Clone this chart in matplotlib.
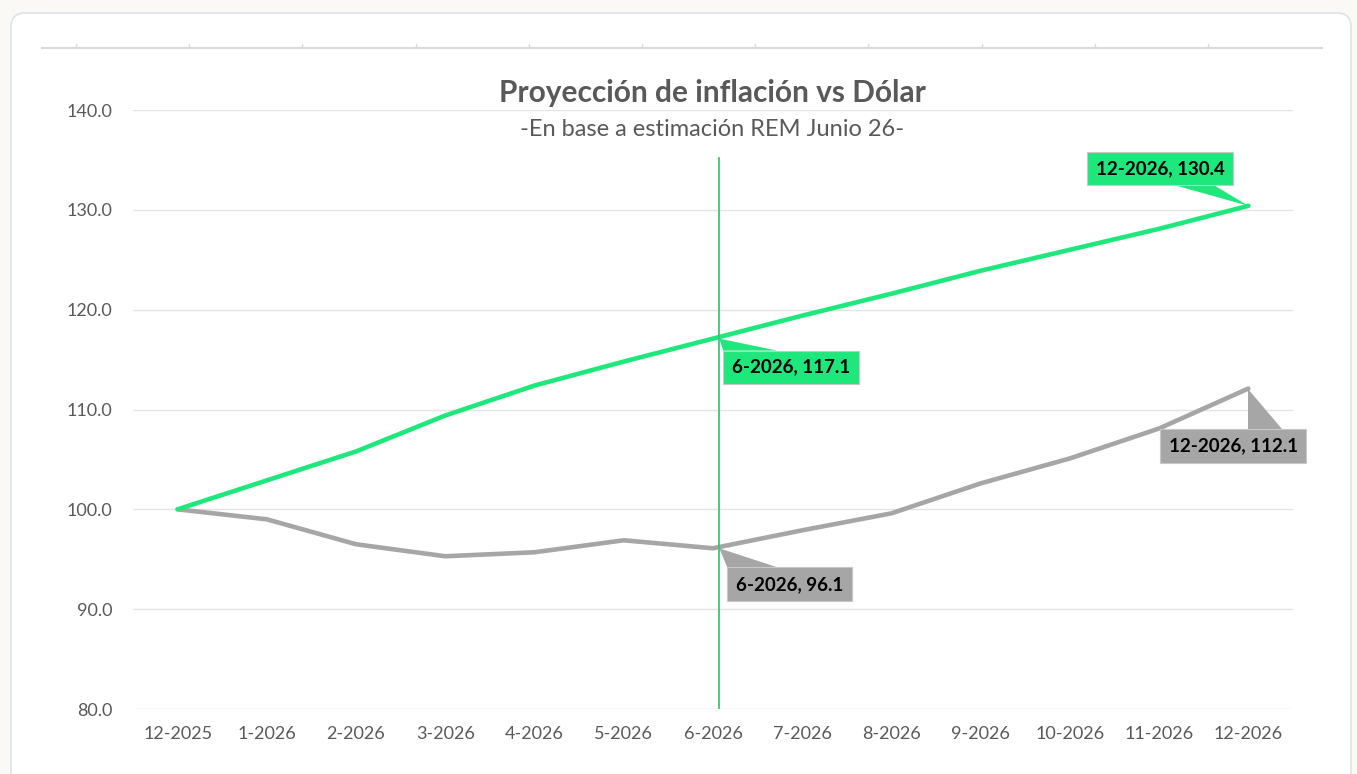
import matplotlib
matplotlib.use("Agg")
import matplotlib.pyplot as plt
from matplotlib.patches import FancyBboxPatch, Polygon, Rectangle
from matplotlib.lines import Line2D

plt.rcParams['font.family'] = ['Lato', 'DejaVu Sans']

categories = ["12-2025", "1-2026", "2-2026", "3-2026", "4-2026", "5-2026", "6-2026",
              "7-2026", "8-2026", "9-2026", "10-2026", "11-2026", "12-2026"]
inflacion = [100.0, 102.9, 105.8, 109.4, 112.4, 114.8, 117.1, 119.4, 121.6, 123.9, 126.0, 128.1, 130.4]
dolar = [100.0, 99.0, 96.5, 95.3, 95.7, 96.9, 96.1, 97.9, 99.6, 102.6, 105.1, 108.1, 112.1]
y_ticks = [80.0, 90.0, 100.0, 110.0, 120.0, 130.0, 140.0]
title = "Proyección de inflación vs Dólar"
subtitle = "-En base a estimación REM Junio 26-"
marker_idx = 6
marker_top = 135.2

GREEN = "#1EE87C"
GRAY = "#A6A6A6"
TXT = "#595959"

W, H = 1357, 774
fig = plt.figure(figsize=(W / 100, H / 100), dpi=100)
fig.patch.set_facecolor("#FBF9F5")

# card
card = FancyBboxPatch((11, -30), 1340, H - 13 + 30, boxstyle="round,pad=0,rounding_size=14",
                      transform=None, facecolor="white", edgecolor="#DCE3EA", lw=1.2, zorder=-5)
fig.patches.append(card)

# top decorative rule with ticks
fig.add_artist(Line2D([42, 1322], [H - 48, H - 48], transform=None, color="#D9D9D9", lw=1.5, zorder=-4))
for k in range(11):
    xx = 76 + 113.2 * k
    fig.add_artist(Line2D([xx, xx], [H - 48, H - 44], transform=None, color="#D9D9D9", lw=1, zorder=-4))

ax = fig.add_axes([133 / W, (H - 709) / H, (1293 - 133) / W, (709 - 110) / H])
ax.set_facecolor("none")
x = list(range(len(categories)))
ax.set_xlim(-0.5, len(categories) - 0.5)
ax.set_ylim(y_ticks[0], y_ticks[-1])
ax.set_yticks(y_ticks)
ax.set_yticklabels([f"{v:.1f}" for v in y_ticks])
ax.set_xticks(x)
ax.set_xticklabels(categories)
ax.tick_params(length=0, labelsize=13, labelcolor=TXT)
ax.tick_params(axis="y", pad=15)
ax.tick_params(axis="x", pad=12)
for s in ax.spines.values():
    s.set_visible(False)
ax.grid(axis="y", color="#E3E3E3", lw=1)
ax.set_axisbelow(True)

ax.plot(x, dolar, color=GRAY, lw=3.3, solid_capstyle="round", solid_joinstyle="round", zorder=3)
ax.plot(x, inflacion, color=GREEN, lw=3.3, solid_capstyle="round", solid_joinstyle="round", zorder=3)
ax.plot([marker_idx + 0.07, marker_idx + 0.07], [y_ticks[0], marker_top], color="#3CC47A", lw=1.3, zorder=4)

fig.text(712 / W, 1 - 93 / H, title, ha="center", va="center", fontsize=21.5, fontweight="bold", color=TXT)
fig.text(712 / W, 1 - 130 / H, subtitle, ha="center", va="center", fontsize=17, color=TXT)

fig.canvas.draw()


def callout(xi, yi, text, fc, box, wedge):
    # box: (x0, y0, x1, y1) pixel offsets from point (y down positive)
    px, py = ax.transData.transform((xi + 0.07 if xi == marker_idx else xi, yi))
    x0, y0, x1, y1 = box
    poly = Polygon([(px, py), (px + wedge[0][0], py - wedge[0][1]), (px + wedge[1][0], py - wedge[1][1])],
                   closed=True, transform=None, facecolor=fc, edgecolor="none", zorder=5)
    fig.add_artist(poly)
    rect = Rectangle((px + x0, py - y1), x1 - x0, y1 - y0, transform=None,
                     facecolor=fc, edgecolor="#C8C8C8", lw=0.8, zorder=6)
    fig.add_artist(rect)
    fig.text((px + (x0 + x1) / 2) / W, (py - (y0 + y1) / 2) / H, text, ha="center", va="center",
             fontsize=13.5, fontweight="bold", color="black", zorder=7)


last = len(categories) - 1
callout(last, inflacion[last], f"{categories[last]}, {inflacion[last]:.1f}", GREEN,
        (-161, -54, -15, -21), [(-75, -21), (-35, -21)])
callout(marker_idx, inflacion[marker_idx], f"{categories[marker_idx]}, {inflacion[marker_idx]:.1f}", GREEN,
        (4, 12, 140, 45), [(4, 12), (58, 12)])
callout(marker_idx, dolar[marker_idx], f"{categories[marker_idx]}, {dolar[marker_idx]:.1f}", GRAY,
        (8, 19, 133, 53), [(8, 19), (58, 19)])
callout(last, dolar[last], f"{categories[last]}, {dolar[last]:.1f}", GRAY,
        (-88, 40, 58, 74), [(0, 40), (34, 40)])

fig.savefig("out.png", dpi=100, facecolor=fig.get_facecolor())
